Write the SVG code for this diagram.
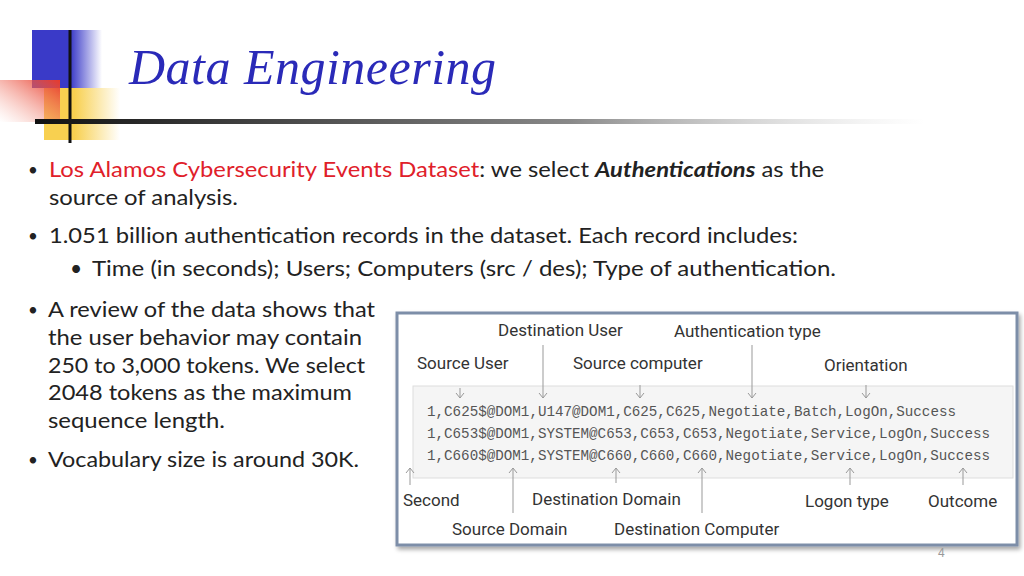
<svg xmlns="http://www.w3.org/2000/svg" width="1024" height="576" viewBox="0 0 1024 576">
<defs>
<linearGradient id="gb" x1="0" x2="1"><stop offset="0.55" stop-color="#3a3ac8"/><stop offset="1" stop-color="#3a3ac8" stop-opacity="0"/></linearGradient>
<linearGradient id="gy" x1="0" x2="1"><stop offset="0.4" stop-color="#f8d050"/><stop offset="1" stop-color="#f8d050" stop-opacity="0"/></linearGradient>
<linearGradient id="gr" x1="1" y1="0" x2="0" y2="1"><stop offset="0" stop-color="#e83a2a"/><stop offset="1" stop-color="#f4a090" stop-opacity="0"/></linearGradient>
<linearGradient id="gl" x1="0" x2="1"><stop offset="0" stop-color="#111"/><stop offset="0.6" stop-color="#888"/><stop offset="1" stop-color="#ccc" stop-opacity="0"/></linearGradient>
<marker id="ah" markerWidth="10" markerHeight="10" refX="9" refY="5" orient="auto" markerUnits="userSpaceOnUse" viewBox="0 0 10 10"><path d="M4,1 L9,5 L4,9" fill="none" stroke="#999" stroke-width="1"/></marker>
<filter id="sh" x="-5%" y="-5%" width="110%" height="115%"><feDropShadow dx="2" dy="3" stdDeviation="2" flood-color="#000" flood-opacity="0.35"/></filter>
</defs>
<style>
.b{font-family:Lato,"Liberation Sans",sans-serif;font-size:21px;fill:#222}
.d{font-family:Lato,"Liberation Sans",sans-serif;font-size:17px;fill:#222}
.l{font-family:Roboto,"Liberation Sans",sans-serif;font-size:17px;fill:#333}
.c{font-family:"Liberation Mono","DejaVu Sans Mono",monospace;font-size:15px;fill:#555}
.a{stroke:#999;stroke-width:1;fill:none}
</style>
<rect width="1024" height="576" fill="#fff"/>
<g id="logo">
<rect x="32" y="30" width="70" height="58" fill="url(#gb)"/>
<rect x="44" y="88" width="76" height="52" fill="url(#gy)"/>
<rect x="0" y="80" width="60" height="42" fill="url(#gr)"/>
<line x1="70" y1="30" x2="70" y2="143" stroke="#111" stroke-width="3"/>
<rect x="35" y="119" width="890" height="5" fill="url(#gl)"/>
</g>
<text x="129" y="84" font-family="'Liberation Serif',serif" font-style="italic" font-size="50" fill="#2a2ab8" textLength="367">Data Engineering</text>
<g id="bullets">
<text x="28" y="176" class="d">•</text>
<text x="49" y="177" class="b" textLength="775" lengthAdjust="spacingAndGlyphs"><tspan fill="#e0202a">Los Alamos Cybersecurity Events Dataset</tspan>: we select <tspan font-weight="bold" font-style="italic">Authentications</tspan> as the</text>
<text x="49" y="205" class="b" textLength="189" lengthAdjust="spacingAndGlyphs">source of analysis.</text>
<text x="28" y="242" class="d">•</text>
<text x="49" y="243" class="b" textLength="749" lengthAdjust="spacingAndGlyphs">1.051 billion authentication records in the dataset. Each record includes:</text>
<text x="70" y="276" class="b" font-size="13">•</text>
<text x="92" y="276" class="b" textLength="744" lengthAdjust="spacingAndGlyphs">Time (in seconds);  Users; Computers (src / des); Type of authentication.</text>
<text x="28" y="316" class="d">•</text>
<text x="48" y="317" class="b" textLength="327" lengthAdjust="spacingAndGlyphs">A review of the data shows that</text>
<text x="48" y="345" class="b" textLength="314" lengthAdjust="spacingAndGlyphs">the user behavior may contain</text>
<text x="48" y="373" class="b" textLength="317" lengthAdjust="spacingAndGlyphs">250 to 3,000 tokens. We select</text>
<text x="48" y="400" class="b" textLength="304" lengthAdjust="spacingAndGlyphs">2048 tokens as the maximum</text>
<text x="48" y="428" class="b" textLength="177" lengthAdjust="spacingAndGlyphs">sequence length.</text>
<text x="28" y="466" class="d">•</text>
<text x="48" y="467" class="b" textLength="311" lengthAdjust="spacingAndGlyphs">Vocabulary size is around 30K.</text>
</g>
<g id="figure">
<rect x="397" y="313" width="620" height="232" fill="#fff" stroke="#7d8ea8" stroke-width="3" filter="url(#sh)"/>
<rect x="413" y="386" width="600" height="92" fill="#f5f5f5" stroke="#ddd"/>
<text x="427" y="416" class="c" textLength="529" lengthAdjust="spacingAndGlyphs">1,C625$@DOM1,U147@DOM1,C625,C625,Negotiate,Batch,LogOn,Success</text>
<text x="427" y="438" class="c" textLength="563" lengthAdjust="spacingAndGlyphs">1,C653$@DOM1,SYSTEM@C653,C653,C653,Negotiate,Service,LogOn,Success</text>
<text x="427" y="460" class="c" textLength="563" lengthAdjust="spacingAndGlyphs">1,C660$@DOM1,SYSTEM@C660,C660,C660,Negotiate,Service,LogOn,Success</text>
<g id="labels">
<text x="498" y="336" class="l">Destination User</text>
<text x="674" y="337" class="l">Authentication type</text>
<text x="417" y="369" class="l">Source User</text>
<text x="573" y="369" class="l">Source computer</text>
<text x="824" y="371" class="l">Orientation</text>
<text x="403" y="506" class="l">Second</text>
<text x="532" y="505" class="l">Destination Domain</text>
<text x="805" y="507" class="l">Logon type</text>
<text x="928" y="507" class="l">Outcome</text>
<text x="452" y="535" class="l">Source Domain</text>
<text x="614" y="535" class="l">Destination Computer</text>
</g>
</g>
<g id="connectors">
<line x1="460" y1="388" x2="460" y2="398" class="a" marker-end="url(#ah)"/>
<line x1="543" y1="345" x2="543" y2="398" class="a" marker-end="url(#ah)"/>
<line x1="640" y1="385" x2="640" y2="398" class="a" marker-end="url(#ah)"/>
<line x1="752" y1="345" x2="752" y2="398" class="a" marker-end="url(#ah)"/>
<line x1="866" y1="385" x2="866" y2="398" class="a" marker-end="url(#ah)"/>
<line x1="410" y1="485" x2="410" y2="468" class="a" marker-end="url(#ah)"/>
<line x1="513" y1="513" x2="513" y2="468" class="a" marker-end="url(#ah)"/>
<line x1="616" y1="483" x2="616" y2="468" class="a" marker-end="url(#ah)"/>
<line x1="702" y1="513" x2="702" y2="468" class="a" marker-end="url(#ah)"/>
<line x1="850" y1="485" x2="850" y2="468" class="a" marker-end="url(#ah)"/>
<line x1="963" y1="485" x2="963" y2="468" class="a" marker-end="url(#ah)"/>
</g>
<text x="938" y="557" font-family="'Liberation Sans',sans-serif" font-size="12" fill="#999">4</text>
</svg>
